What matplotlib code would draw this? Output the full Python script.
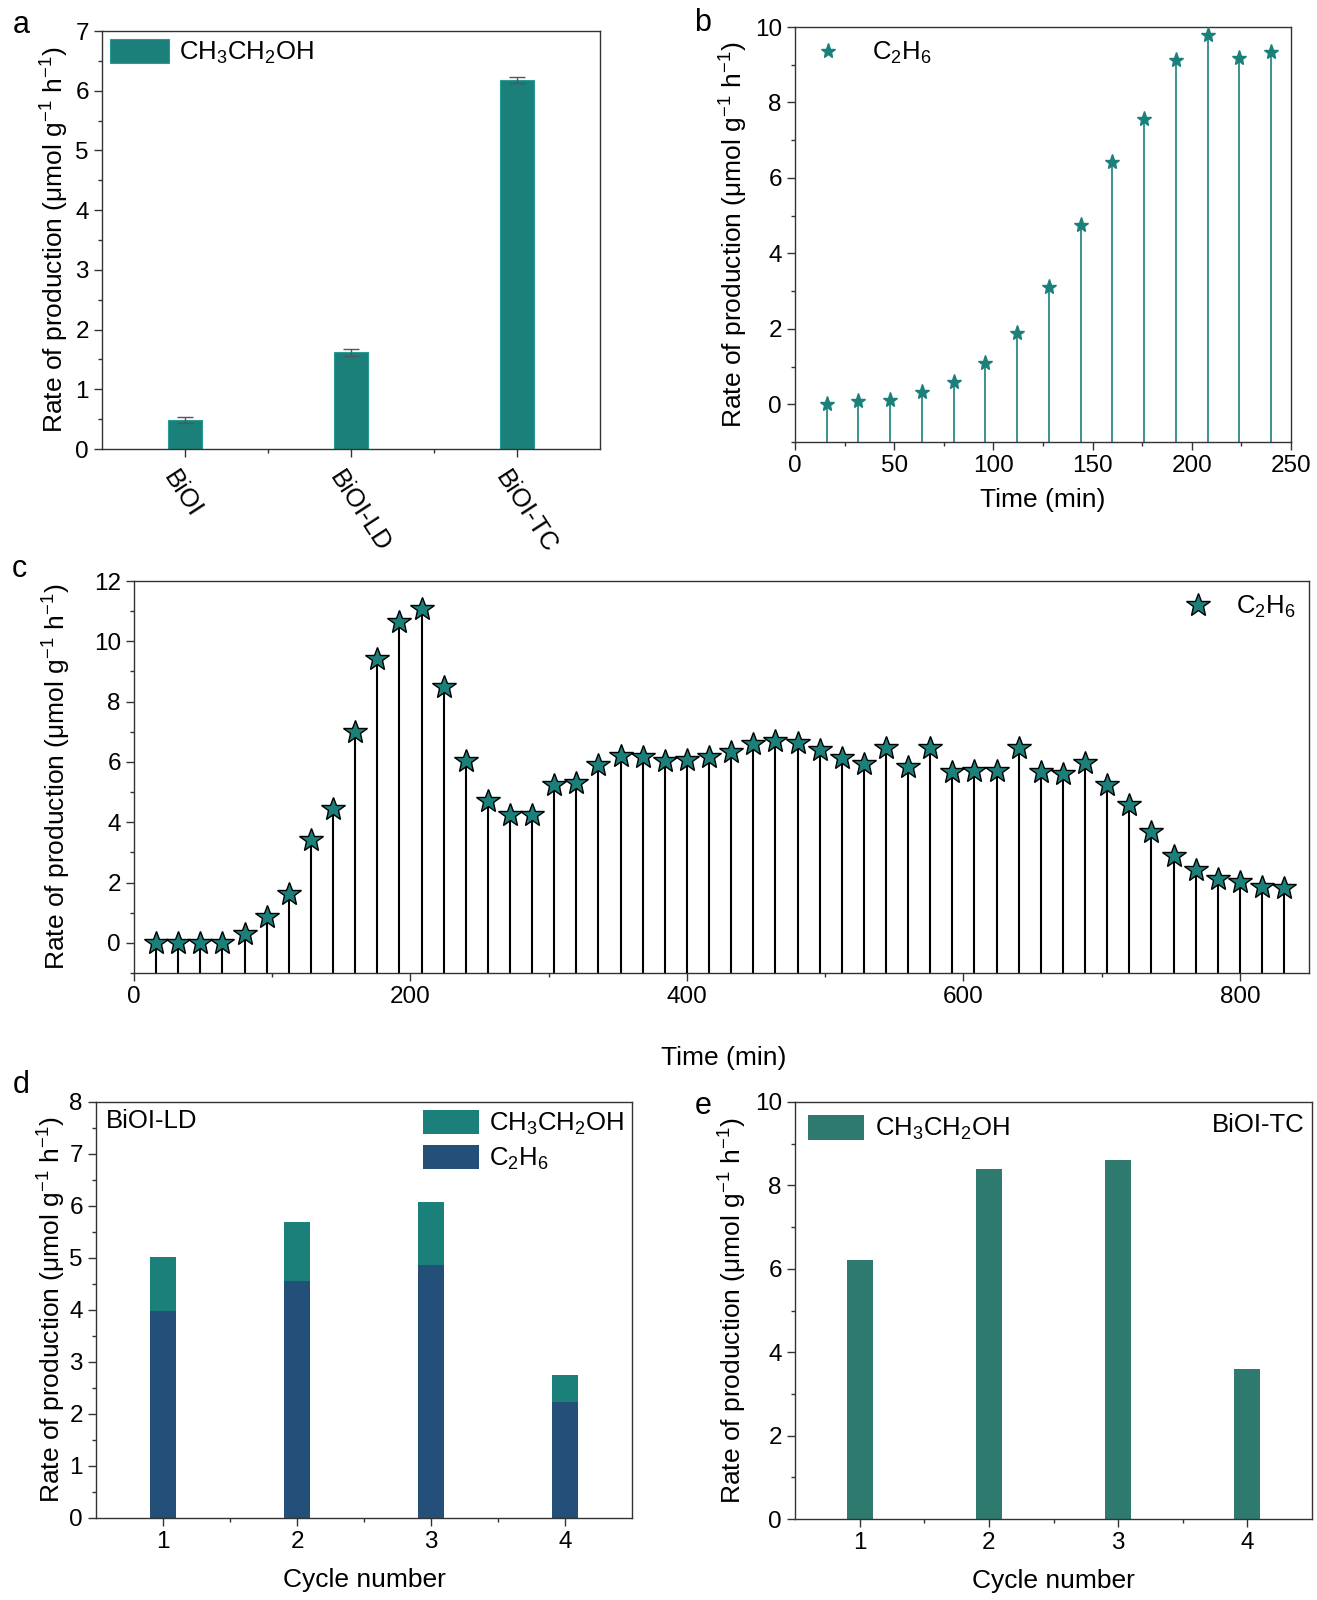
import matplotlib
matplotlib.use("Agg")
import matplotlib.pyplot as plt
import matplotlib.transforms as mtransforms
from matplotlib.ticker import MultipleLocator, FixedLocator
import numpy as np

plt.rcParams['font.family'] = ['Liberation Sans', 'DejaVu Sans']
plt.rcParams['mathtext.fontset'] = 'custom'
plt.rcParams['mathtext.rm'] = 'Liberation Sans'
plt.rcParams['mathtext.it'] = 'Liberation Sans:italic'
plt.rcParams['mathtext.bf'] = 'Liberation Sans:bold'
plt.rcParams['axes.linewidth'] = 1.0
plt.rcParams['axes.edgecolor'] = '#333333'

# ---------------- data ----------------
# panel a
a_categories = ['BiOI', 'BiOI-LD', 'BiOI-TC']
a_values = [0.49, 1.62, 6.18]
a_errors = [0.05, 0.06, 0.05]

# panel b
b_time = [16, 32, 48, 64, 80, 96, 112, 128, 144, 160, 176, 192, 208, 224, 240]
b_c2h6 = [0.02, 0.09, 0.12, 0.33, 0.59, 1.09, 1.89, 3.10, 4.75, 6.43, 7.57, 9.13, 9.78, 9.19, 9.34]

# panel c
c_time = [16, 32, 48, 64, 80, 96, 112, 128, 144, 160, 176, 192, 208, 224, 240, 256,
          272, 288, 304, 320, 336, 352, 368, 384, 400, 416, 432, 448, 464, 480, 496,
          512, 528, 544, 560, 576, 592, 608, 624, 640, 656, 672, 688, 704, 720, 736,
          752, 768, 784, 800, 816, 832]
c_c2h6 = [0.0, 0.0, 0.0, 0.0, 0.29, 0.87, 1.63, 3.40, 4.44, 6.98, 9.40, 10.64, 11.06,
          8.48, 6.04, 4.72, 4.25, 4.25, 5.22, 5.30, 5.91, 6.20, 6.17, 6.04, 6.06, 6.15,
          6.34, 6.58, 6.69, 6.63, 6.40, 6.12, 5.93, 6.47, 5.84, 6.47, 5.68, 5.71, 5.71,
          6.45, 5.65, 5.60, 5.98, 5.22, 4.57, 3.67, 2.89, 2.41, 2.11, 2.01, 1.86, 1.81]

# panel d
d_cycles = [1, 2, 3, 4]
d_c2h6 = [3.98, 4.55, 4.86, 2.23]
d_ethanol = [1.03, 1.15, 1.21, 0.52]

# panel e
e_cycles = [1, 2, 3, 4]
e_ethanol = [6.20, 8.40, 8.60, 3.60]

TEAL = '#1b807a'
NAVY = '#234f78'
TEAL_E = '#2e7a6e'
FS = 17.5      # tick labels
FL = 19.0      # axis labels
FG = 18.5      # legends / annotations
YLABEL = r'Rate of production (μmol g$^{\mathregular{-1}}$ h$^{\mathregular{-1}}$)'
ETOH = r'CH$_3$CH$_2$OH'
C2H6 = r'C$_2$H$_6$'

W, H = 1317, 1600
fig = plt.figure(figsize=(W / 100, H / 100), dpi=100)


def add_axes(x0, y0, x1, y1):
    return fig.add_axes([x0 / W, 1 - y1 / H, (x1 - x0) / W, (y1 - y0) / H])


def style(ax):
    ax.tick_params(which='both', direction='out', top=False, right=False,
                   labelsize=FS, color='#333333', width=1.0)
    ax.tick_params(which='major', length=5.5, pad=4)
    ax.tick_params(which='minor', length=3)


# ---------------- panel a ----------------
axa = add_axes(102, 31, 600, 449)
xa = np.arange(1, len(a_categories) + 1)
axa.bar(xa, a_values, width=0.2, color=TEAL, edgecolor='#2a9a92', linewidth=0.8,
        label=ETOH, zorder=2)
axa.errorbar(xa, a_values, yerr=a_errors, fmt='none', ecolor='#555555',
             elinewidth=1.0, capsize=6, capthick=1.0, zorder=3)
axa.set_xlim(0.5, 3.5)
axa.set_ylim(0, 7)
axa.yaxis.set_major_locator(MultipleLocator(1))
axa.yaxis.set_minor_locator(MultipleLocator(0.5))
axa.xaxis.set_major_locator(FixedLocator(xa))
axa.xaxis.set_minor_locator(FixedLocator([1.5, 2.5]))
style(axa)
axa.set_xticklabels(a_categories, rotation=-57, ha='left', va='center',
                    rotation_mode='anchor', fontsize=FG)
axa.tick_params(axis='x', pad=12)
shift = mtransforms.ScaledTranslation(-16 / 100, 0, fig.dpi_scale_trans)
for lab in axa.get_xticklabels():
    lab.set_transform(lab.get_transform() + shift)
axa.set_ylabel(YLABEL, fontsize=FL)
axa.yaxis.set_label_coords(-0.062, 0.5)
axa.legend(loc='upper left', fontsize=FG, frameon=False, handlelength=2.3,
           handleheight=1.1, borderaxespad=0.2, handletextpad=0.4,
           borderpad=0.1)

# ---------------- panel b ----------------
axb = add_axes(795, 27, 1291, 442)
axb.vlines(b_time, -1, b_c2h6, color=TEAL, linewidth=1.2, zorder=2)
axb.plot(b_time, b_c2h6, linestyle='none', marker='*', markersize=11,
         color=TEAL, markeredgecolor=TEAL, label=C2H6, zorder=3)
axb.set_xlim(0, 250)
axb.set_ylim(-1, 10)
axb.xaxis.set_major_locator(MultipleLocator(50))
axb.xaxis.set_minor_locator(MultipleLocator(25))
axb.yaxis.set_major_locator(MultipleLocator(2))
axb.yaxis.set_minor_locator(MultipleLocator(1))
style(axb)
axb.set_ylabel(YLABEL, fontsize=FL)
axb.yaxis.set_label_coords(-0.090, 0.5)
axb.set_xlabel('Time (min)', fontsize=FL)
axb.xaxis.set_label_coords(0.5, -0.112)
axb.legend(loc='upper left', fontsize=FG, frameon=False, handlelength=1.6,
           borderaxespad=0.3, handletextpad=0.9, numpoints=1, borderpad=0.2)

# ---------------- panel c ----------------
axc = add_axes(134, 581, 1309, 973)
axc.vlines(c_time, -1, c_c2h6, color='black', linewidth=1.5, zorder=2)
axc.plot(c_time, c_c2h6, linestyle='none', marker='*', markersize=18,
         markerfacecolor=TEAL, markeredgecolor='black', markeredgewidth=1.0,
         label=C2H6, zorder=3)
axc.set_xlim(0, 850)
axc.set_ylim(-1, 12)
axc.xaxis.set_major_locator(MultipleLocator(200))
axc.xaxis.set_minor_locator(MultipleLocator(100))
axc.yaxis.set_major_locator(MultipleLocator(2))
axc.yaxis.set_minor_locator(MultipleLocator(1))
style(axc)
axc.set_ylabel(YLABEL, fontsize=FL)
axc.yaxis.set_label_coords(-0.052, 0.5)
axc.set_xlabel('Time (min)', fontsize=FL)
axc.xaxis.set_label_coords(0.502, -0.185)
axc.legend(loc='upper right', fontsize=FG, frameon=False, handlelength=1.4,
           borderaxespad=0.3, handletextpad=0.8, numpoints=1, borderpad=0.2)

# ---------------- panel d ----------------
axd = add_axes(96, 1102, 632, 1518)
axd.bar(d_cycles, d_c2h6, width=0.2, color=NAVY, label=C2H6, zorder=2)
axd.bar(d_cycles, d_ethanol, width=0.2, bottom=d_c2h6, color=TEAL,
        label=ETOH, zorder=2)
axd.set_xlim(0.5, 4.5)
axd.set_ylim(0, 8)
axd.xaxis.set_major_locator(FixedLocator(d_cycles))
axd.xaxis.set_minor_locator(FixedLocator([1.5, 2.5, 3.5]))
axd.yaxis.set_major_locator(MultipleLocator(1))
axd.yaxis.set_minor_locator(MultipleLocator(0.5))
style(axd)
axd.set_ylabel(YLABEL, fontsize=FL)
axd.yaxis.set_label_coords(-0.052, 0.5)
axd.set_xlabel('Cycle number', fontsize=FL)
axd.xaxis.set_label_coords(0.5, -0.12)
hd, ld = axd.get_legend_handles_labels()
axd.legend(hd[::-1], ld[::-1], loc='upper right', fontsize=FG, frameon=False,
           handlelength=2.2, handleheight=1.1, borderaxespad=0.2,
           handletextpad=0.4, labelspacing=0.3, borderpad=0.1)
axd.text(0.018, 0.955, 'BiOI-LD', transform=axd.transAxes, fontsize=FG,
         ha='left', va='center')

# ---------------- panel e ----------------
axe = add_axes(795, 1102, 1312, 1519)
axe.bar(e_cycles, e_ethanol, width=0.2, color=TEAL_E, label=ETOH, zorder=2)
axe.set_xlim(0.5, 4.5)
axe.set_ylim(0, 10)
axe.xaxis.set_major_locator(FixedLocator(e_cycles))
axe.xaxis.set_minor_locator(FixedLocator([1.5, 2.5, 3.5]))
axe.yaxis.set_major_locator(MultipleLocator(2))
axe.yaxis.set_minor_locator(MultipleLocator(1))
style(axe)
axe.set_ylabel(YLABEL, fontsize=FL)
axe.yaxis.set_label_coords(-0.089, 0.5)
axe.set_xlabel('Cycle number', fontsize=FL)
axe.xaxis.set_label_coords(0.5, -0.12)
axe.legend(loc='upper left', fontsize=FG, frameon=False, handlelength=2.2,
           handleheight=1.1, borderaxespad=0.2, handletextpad=0.4,
           borderpad=0.3)
axe.text(0.985, 0.945, 'BiOI-TC', transform=axe.transAxes, fontsize=FG,
         ha='right', va='center')

# ---------------- panel letters ----------------
for letter, (px, py) in {'a': (21, 25), 'b': (703, 23), 'c': (19, 569),
                         'd': (21, 1085), 'e': (703, 1106)}.items():
    fig.text(px / W, 1 - py / H, letter, fontsize=22, ha='center', va='center')

fig.savefig('out.png', dpi=100)
